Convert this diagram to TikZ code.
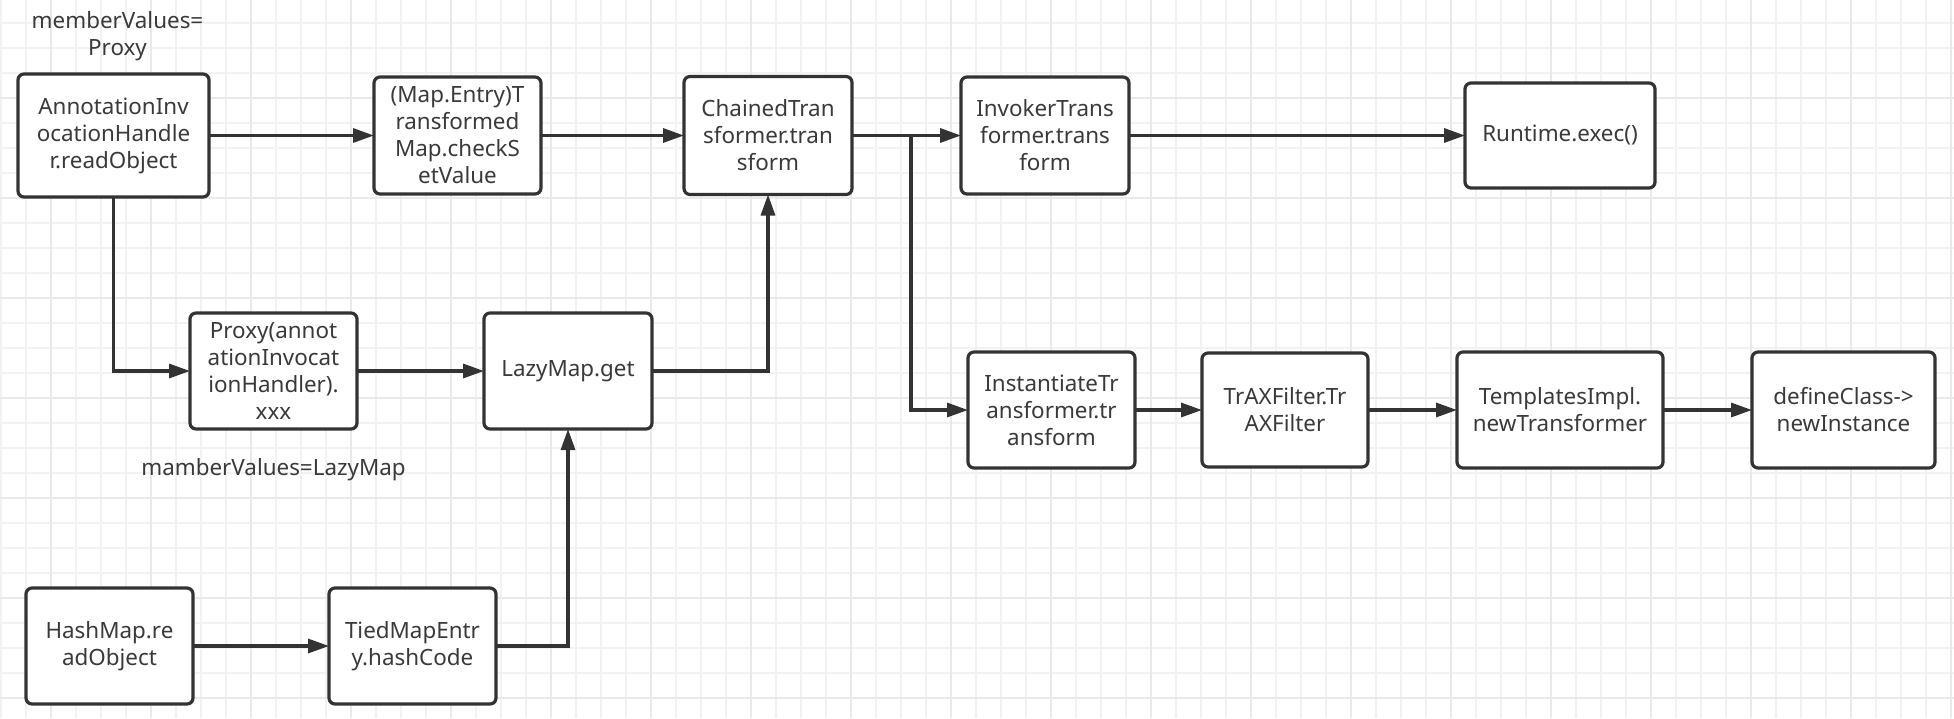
\documentclass[tikz,border=0pt]{standalone}
\usepackage{fontspec}
\setmainfont{Noto Sans}
\usetikzlibrary{positioning,arrows.meta}
\definecolor{lineC}{HTML}{333333}
\definecolor{textC}{HTML}{3A3A3A}
\definecolor{gridC}{HTML}{F2F2F2}
\definecolor{gridMajC}{HTML}{E9E9E9}

\begin{document}
\begin{tikzpicture}[
  x=0.5pt, y=-0.5pt,
  every node/.style={font=\fontsize{11.2}{13.5}\selectfont, text=textC},
  callbox/.style 2 args={
    draw=lineC, fill=white, line width=1.6pt, rounded corners=3pt,
    minimum width=#1, minimum height=#2,
    inner sep=0pt, outer sep=0pt, align=center,
  },
  note/.style={align=center, inner sep=0pt},
  flow/.style={-{Triangle[length=10.5pt,width=7pt]}, lineC, line width=1.6pt},
  gridmin/.style={gridC, line width=0.7pt},
  gridmaj/.style={gridMajC, line width=0.8pt},
]

% ── Canvas and grid paper ──
\fill[white] (0,0) rectangle (1954,718);
\useasboundingbox (0,0) rectangle (1954,718);
\foreach \gx in {1,26,...,1951} \draw[gridmin] (\gx,0) -- (\gx,718);
\foreach \gy in {23,48,...,718} \draw[gridmin] (0,\gy) -- (1954,\gy);
\foreach \gx in {51,151,...,1951} \draw[gridmaj] (\gx,0) -- (\gx,718);
\foreach \gy in {98,198,...,698} \draw[gridmaj] (0,\gy) -- (1954,\gy);

% ── Top row: readObject chain ──
\node[callbox={95.5pt}{61.5pt}] (aih) at (113.5,135.5)
      {AnnotationInv\\ocationHandle\\r.readObject};
\node[callbox={83.5pt}{58.5pt}, right=82.5pt of aih] (tmap)
      {(Map.Entry)T\\ransformed\\Map.checkS\\etValue};
\node[callbox={84pt}{59pt}, right=71.5pt of tmap] (chained)
      {ChainedTran\\sformer.tran\\sform};
\node[callbox={84pt}{58.5pt}, right=54.5pt of chained] (invoker)
      {InvokerTrans\\former.trans\\form};
\node[callbox={95pt}{52.5pt}, right=168pt of invoker] (runtime)
      {Runtime.exec()};

% ── Proxy / LazyMap row ──
\node[callbox={83.5pt}{58pt}] (proxy) at (273.5,371)
      {Proxy(annot\\ationInvocat\\ionHandler).\\xxx};
\node[callbox={84pt}{58pt}, right=63.5pt of proxy] (lazy)
      {LazyMap.get};

% ── HashMap row ──
\node[callbox={83.5pt}{58pt}] (hashmap) at (109.5,646)
      {HashMap.re\\adObject};
\node[callbox={83.5pt}{58pt}, right=68pt of hashmap] (tied)
      {TiedMapEntr\\y.hashCode};

% ── TemplatesImpl row ──
\node[callbox={83.5pt}{58pt}] (inst) at (1051.5,410)
      {InstantiateTr\\ansformer.tr\\ansform};
\node[callbox={83pt}{57pt}, right=33.5pt of inst] (trax)
      {TrAXFilter.Tr\\AXFilter};
\node[callbox={103pt}{58pt}, right=44.5pt of trax] (templ)
      {TemplatesImpl.\\newTransformer};
\node[callbox={91.5pt}{58pt}, right=44.5pt of templ] (defcls)
      {defineClass->\\newInstance};

% ── Notes ──
\node[note] (memo1) at ([xshift=2pt,yshift=19pt]aih.north)
      {memberValues=\\Proxy};
\node[note] (memo2) at ([yshift=-20.5pt]proxy.south)
      {mamberValues=LazyMap};

% ── Connectors ──
\coordinate (split) at (911,135.5);
\draw[flow] (aih.east) -- (tmap.west);
\draw[flow] (tmap.east) -- (chained.west);
\draw[flow] (chained.east) -- (invoker.west);
\draw[flow] (invoker.east) -- (runtime.west);
\draw[flow] (split) |- (inst.west);
\draw[flow] (inst.east) -- (trax.west);
\draw[flow] (trax.east) -- (templ.west);
\draw[flow] (templ.east) -- (defcls.west);
\draw[flow] (aih.south) |- (proxy.west);
\draw[flow] (proxy.east) -- (lazy.west);
\draw[flow] (lazy.east) -| (chained.south);
\draw[flow] (hashmap.east) -- (tied.west);
\draw[flow] (tied.east) -| (lazy.south);

\end{tikzpicture}
\end{document}
